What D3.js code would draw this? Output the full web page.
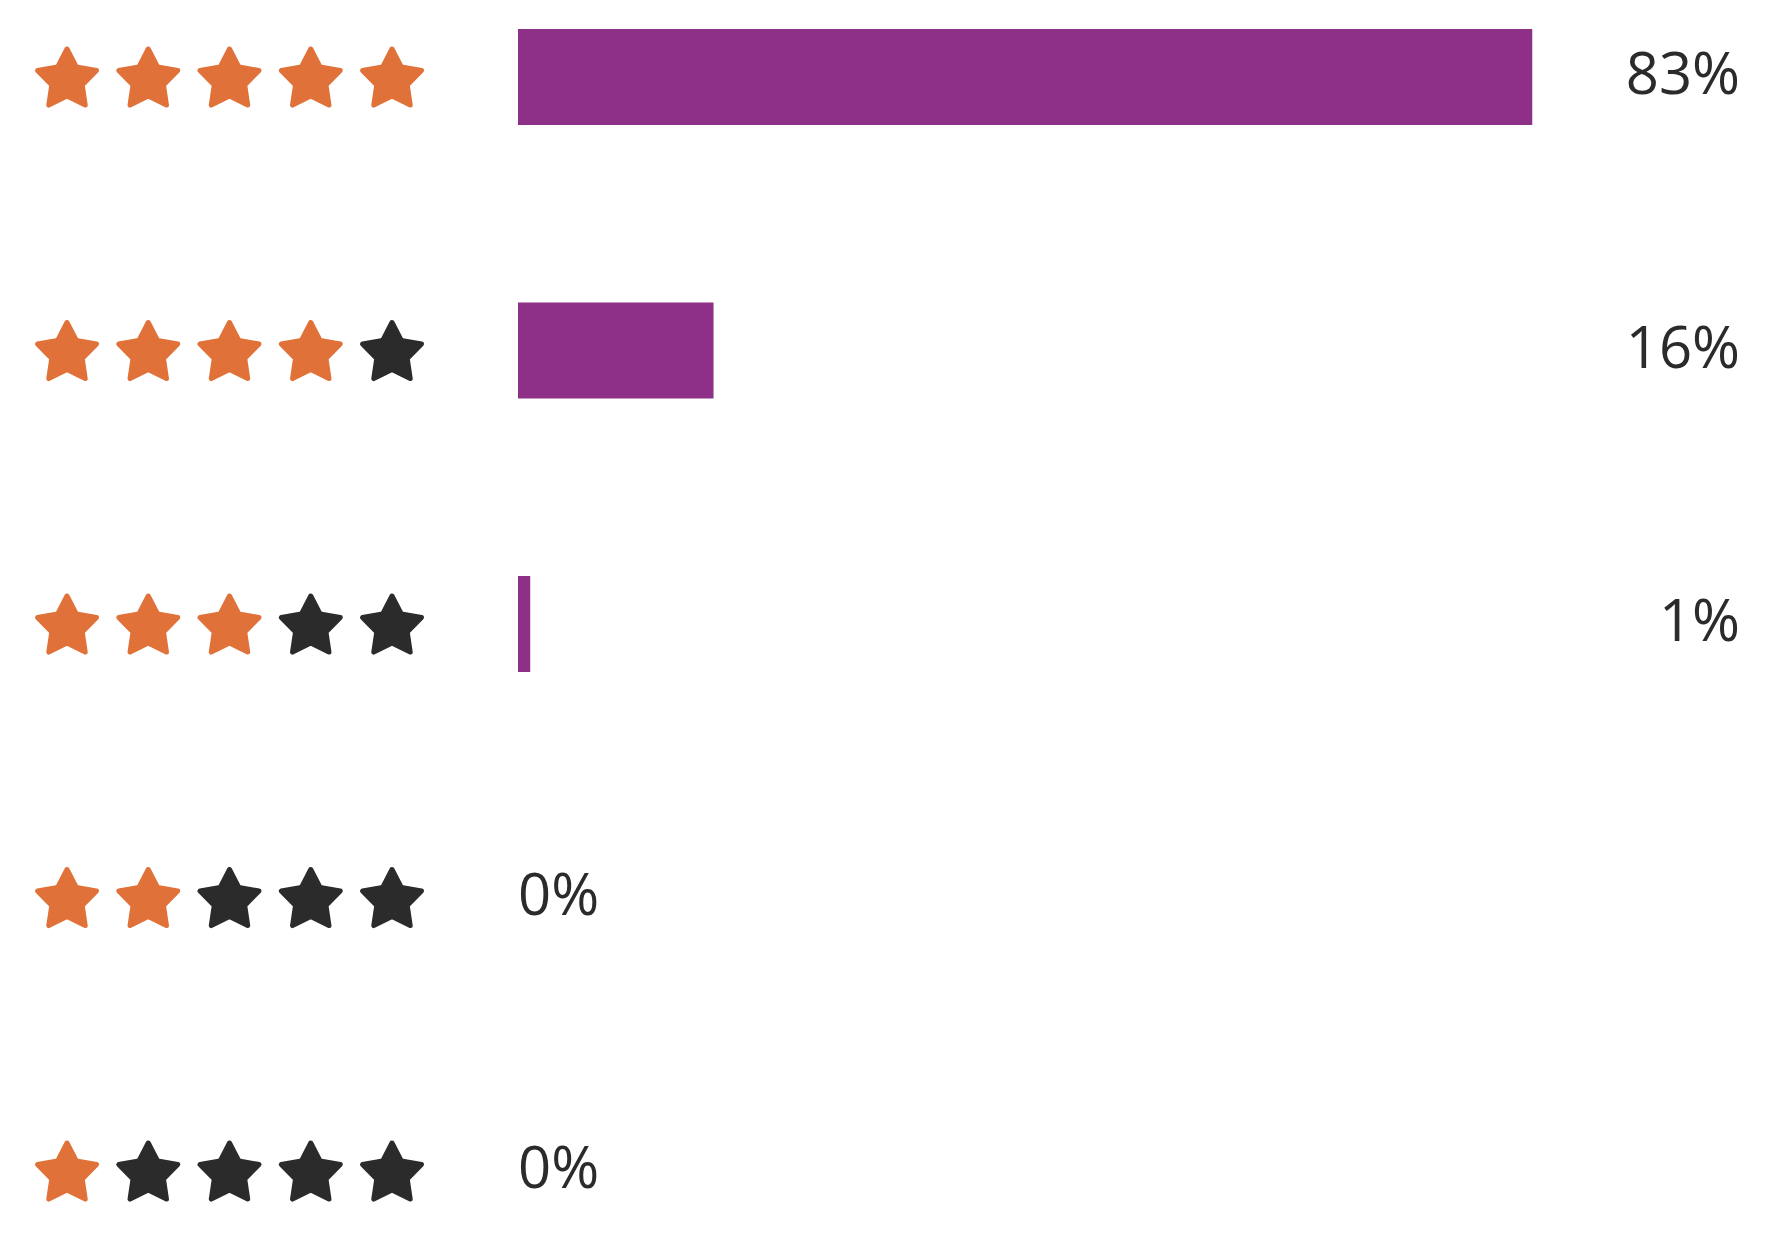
<!DOCTYPE html>
<html>
<head>
<meta charset="utf-8">
<script src="https://cdn.jsdelivr.net/npm/d3@7"></script>
<style>
  html, body { margin: 0; padding: 0; background: #ffffff; }
  svg { display: block; }
</style>
</head>
<body>
<svg id="chart" width="1786" height="1234"></svg>
<script>
// Data
const ratings = [5, 4, 3, 2, 1];
const percents = [83, 16, 1, 0, 0];
const labels = ["83%", "16%", "1%", "0%", "0%"];
const starSlots = [1, 2, 3, 4, 5];

const W = 1786, H = 1234;
const svg = d3.select("#chart");

const orange = "#e07139";
const dark = "#2b2b2b";
const purple = "#8e3088";

const y = d3.scalePoint().domain(ratings).range([77, 1171]);
const x = d3.scaleLinear().domain([0, 100]).range([518, 1740]);
const starX = d3.scalePoint().domain(starSlots).range([67, 392]);

const barH = 96;

// star polygon
const R = 31, r = 16;
const starPts = d3.range(10).map(i => {
  const a = -Math.PI / 2 + i * Math.PI / 5;
  const rad = i % 2 === 0 ? R : r;
  return [rad * Math.cos(a), rad * Math.sin(a)];
});
const starPath = d3.line()(starPts) + "Z";

const rows = svg.selectAll("g.row")
  .data(ratings.map((d, i) => ({ rating: d, pct: percents[i], label: labels[i] })))
  .join("g")
  .attr("class", "row");

// stars
rows.each(function(d) {
  d3.select(this).selectAll("path.star")
    .data(starSlots)
    .join("path")
    .attr("class", "star")
    .attr("d", starPath)
    .attr("transform", s => `translate(${starX(s)},${y(d.rating) + 3})`)
    .attr("fill", s => s <= d.rating ? orange : dark)
    .attr("stroke", s => s <= d.rating ? orange : dark)
    .attr("stroke-width", 5)
    .attr("stroke-linejoin", "round");
});

// bars
rows.filter(d => d.pct > 0)
  .append("rect")
  .attr("x", x(0))
  .attr("y", d => y(d.rating) - barH / 2)
  .attr("width", d => x(d.pct) - x(0))
  .attr("height", barH)
  .attr("fill", purple);

// labels
rows.append("text")
  .attr("x", d => d.pct > 0 ? 1740 : x(0))
  .attr("y", d => y(d.rating) + 17)
  .attr("text-anchor", d => d.pct > 0 ? "end" : "start")
  .attr("font-family", "'Open Sans', sans-serif")
  .attr("font-size", 58)
  .attr("font-weight", 400)
  .attr("fill", dark)
  .text(d => d.label);
</script>
</body>
</html>
